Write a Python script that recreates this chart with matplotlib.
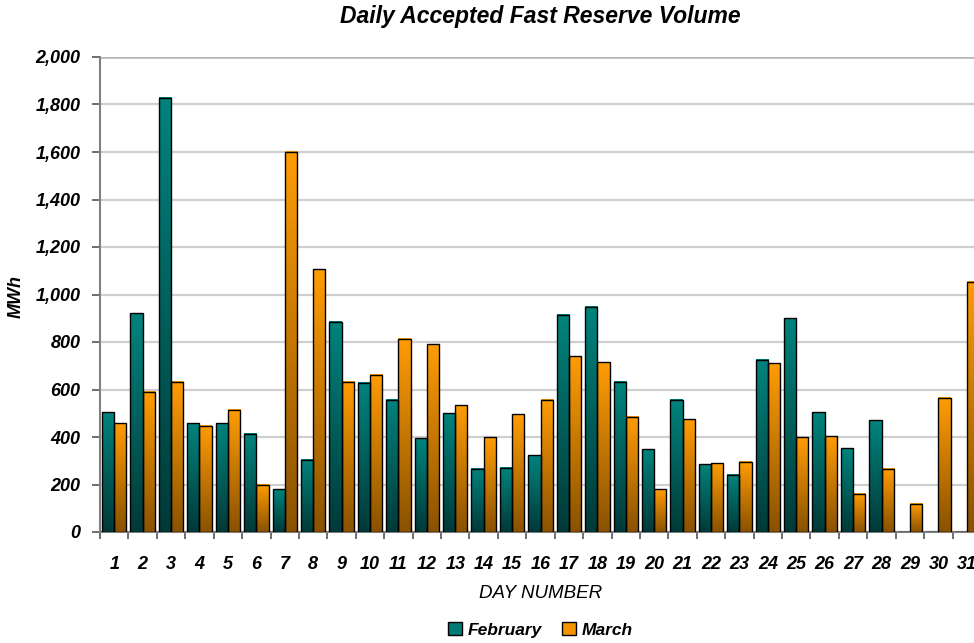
import numpy as np
import matplotlib
matplotlib.use("Agg")
import matplotlib.pyplot as plt
from matplotlib.colors import LinearSegmentedColormap
from matplotlib.patches import Patch

plt.rcParams['font.family'] = ['Liberation Sans', 'DejaVu Sans']

days = list(range(1, 32))
february = [505, 921, 1828, 457, 457, 413, 181, 304, 886, 629,
            556, 395, 500, 266, 270, 324, 915, 949, 633, 348,
            556, 285, 241, 725, 901, 505, 352, 471, 0, 0, 0]
march = [457, 591, 633, 448, 514, 200, 1602, 1106, 633, 663,
         814, 790, 533, 399, 495, 556, 739, 715, 485, 179,
         475, 290, 296, 711, 399, 404, 161, 266, 119, 566, 1054]

feb_cmap = LinearSegmentedColormap.from_list("feb", ["#003a38", "#00837d"])
mar_cmap = LinearSegmentedColormap.from_list("mar", ["#8a5200", "#ff9c05"])

fig = plt.figure(figsize=(9.74, 6.43), dpi=100)
ax = fig.add_axes([100 / 974, 111 / 643, 881 / 974, 475 / 643])

x = np.array(days)
w = 0.43
grad = np.linspace(0, 1, 100).reshape(-1, 1)


def draw_bars(xs, vals, cmap):
    bars = ax.bar(xs, vals, width=w, facecolor="none", edgecolor="black",
                  linewidth=1.0, zorder=4)
    for b, v in zip(bars, vals):
        if v <= 0:
            continue
        x0 = b.get_x()
        ax.imshow(grad, cmap=cmap, origin="lower", aspect="auto",
                  extent=[x0, x0 + w, 0, v], zorder=3, interpolation="bilinear")
    return bars


draw_bars(x - 0.215, february, feb_cmap)
draw_bars(x + 0.215, march, mar_cmap)

ax.set_xlim(0.5, 31.5)
ax.set_ylim(0, 2000)

ax.set_yticks(range(0, 2001, 200))
ax.set_yticklabels([f"{v:,}" for v in range(0, 2001, 200)])
ax.yaxis.grid(True, color="#cfcfcf", linewidth=1.6, zorder=0)
ax.set_axisbelow(True)
ax.axhline(2000, color="#b4b4b4", linewidth=1.8, zorder=1)

ax.set_xticks(x)
ax.set_xticklabels([str(d) for d in days])
ax.set_xticks(np.arange(0.5, 32, 1), minor=True)
ax.tick_params(axis="x", which="major", length=0, pad=17)
ax.tick_params(axis="x", which="minor", length=5, width=1.2, color="#555555")
ax.tick_params(axis="y", length=6, width=1.2, color="#555555", pad=8)

for lab in ax.get_xticklabels() + ax.get_yticklabels():
    lab.set_fontsize(13)
    lab.set_fontweight("bold")
    lab.set_fontstyle("italic")

for s in ["top", "right"]:
    ax.spines[s].set_visible(False)
for s in ["left", "bottom"]:
    ax.spines[s].set_color("#808080")
    ax.spines[s].set_linewidth(1.5)

ax.set_xlabel("DAY NUMBER", fontsize=13.5, fontstyle="italic", labelpad=9)
ax.set_ylabel("MWh", fontsize=13, fontstyle="italic", fontweight="bold")
ax.yaxis.set_label_coords(-0.085, 0.495)

ax.text(0.5, 1.086, "Daily Accepted Fast Reserve Volume", transform=ax.transAxes,
        ha="center", va="center", fontsize=16.5, fontweight="bold",
        fontstyle="italic")

handles = [Patch(facecolor="#007a75", edgecolor="black", label="February"),
           Patch(facecolor="#f59300", edgecolor="black", label="March")]
ax.legend(handles=handles, loc="center", bbox_to_anchor=(0.5, -0.206),
          ncol=2, frameon=False, handlelength=0.8, handleheight=0.8,
          handletextpad=0.3, columnspacing=1.2,
          prop={"size": 12.5, "weight": "bold", "style": "italic"})

fig.savefig("out.png", dpi=100)
